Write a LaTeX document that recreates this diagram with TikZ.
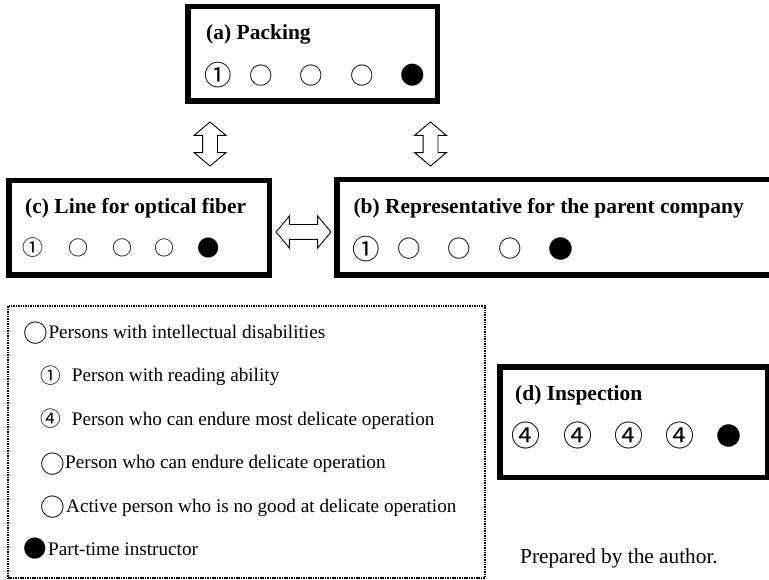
\documentclass[tikz,border=0pt]{standalone}
\usepackage{fontspec}
\setmainfont{Liberation Serif}
\newfontfamily\cjk{Noto Sans CJK JP}
\usetikzlibrary{shapes.arrows}
\begin{document}
\begin{tikzpicture}[x=1pt,y=-1pt,
  box/.style={draw, line width=5.5pt, rectangle, inner sep=0pt},
  headtxt/.style={font=\fontsize{21.5}{24}\selectfont\bfseries, anchor=base west, inner sep=0pt},
  legtxt/.style={font=\fontsize{19.2}{22}\selectfont, anchor=base west, inner sep=0pt},
  sym/.style={font=\cjk\fontsize{#1}{#1}\selectfont, inner sep=0pt, anchor=center},
  dblarrow/.style={shape=double arrow, draw, line width=0.9pt, fill=white,
    inner xsep=0pt, inner ysep=7pt, double arrow head extend=8.5pt,
    double arrow tip angle=100},
  legbox/.style={draw, line width=1.5pt, dash pattern=on 1.5pt off 0.9pt}
]
\useasboundingbox (0,0) rectangle (769,580);
\clip (0,0) rectangle (769,580);

% boxes
\node[box, minimum width=249.5pt, minimum height=94.5pt] (A) at (312.5,54) {};
\node[box, minimum width=260.5pt, minimum height=94.5pt] (C) at (139,228) {};
\node[box, minimum width=453pt, minimum height=95.5pt] (B) at (563.4,227.5) {};
\node[box, minimum width=267.5pt, minimum height=110.5pt] (D) at (633.5,422) {};

% headings
\node[headtxt] (Ah) at (206,39.5) {(a) Packing};
\node[headtxt] (Ch) at (25,214) {(c) Line for optical fiber};
\node[headtxt] (Bh) at (353.3,214) {(b) Representative for the parent company};
\node[headtxt] (Dh) at (515,400) {(d) Inspection};

% symbols in boxes
\node[sym=27.5] (A1) at (218,75.5) {①};
\node[sym=23.5] (A2) at (261.7,75.5) {○};
\node[sym=23.5] (A3) at (311.7,75.5) {○};
\node[sym=23.5] (A4) at (362,75.5) {○};
\node[sym=24.5] (A5) at (413,75.5) {●};

\node[sym=21] (C1) at (32.5,247.7) {①};
\node[sym=20] (C2) at (78.7,247.7) {○};
\node[sym=20] (C3) at (122,247.7) {○};
\node[sym=20] (C4) at (164.7,247.7) {○};
\node[sym=22.3] (C5) at (208.8,247.7) {●};

\node[sym=27.5] (B1) at (365.8,248.7) {①};
\node[sym=23.5] (B2) at (409,248.7) {○};
\node[sym=23.5] (B3) at (459,248.7) {○};
\node[sym=23.5] (B4) at (510,248.7) {○};
\node[sym=25] (B5) at (560.8,248.7) {●};

\node[sym=29] (D1) at (526.3,435.8) {④};
\node[sym=29] (D2) at (578.3,435.8) {④};
\node[sym=29] (D3) at (628.7,435.8) {④};
\node[sym=29] (D4) at (679.5,435.8) {④};
\node[sym=25] (D5) at (729,435.8) {●};

% double arrows
\node[dblarrow, rotate=90, minimum height=44pt] (AC) at (210,144) {};
\node[dblarrow, rotate=90, minimum height=44pt] (AB) at (430.5,144) {};
\node[dblarrow, minimum height=55pt] (CB) at (303.5,232) {};

% legend
\node[legbox, minimum width=477pt, minimum height=272pt, inner sep=0pt] (L) at (246.5,442) {};
\node[sym=24.7] (L1s) at (36.3,333.3) {○};
\node[legtxt] (L1) at (48.3,338.3) {Persons with intellectual disabilities};
\node[sym=20.7] (L2s) at (50.5,375.8) {①};
\node[legtxt] (L2) at (71.7,381.7) {Person with reading ability};
\node[sym=20.7] (L3s) at (50.5,419) {④};
\node[legtxt] (L3) at (71.7,425) {Person who can endure most delicate operation};
\node[sym=24.7] (L4s) at (53,463.7) {○};
\node[legtxt] (L4) at (65,468.3) {Person who can endure delicate operation};
\node[sym=24.7] (L5s) at (53,507.5) {○};
\node[legtxt] (L5) at (66,512.7) {Active person who is no good at delicate operation};
\node[sym=23.5] (L6s) at (35,548.8) {●};
\node[legtxt] (L6) at (48,555) {Part-time instructor};

\node[legtxt, font=\fontsize{21.3}{24}\selectfont] (P) at (520,563.3) {Prepared by the author.};
\end{tikzpicture}
\end{document}
